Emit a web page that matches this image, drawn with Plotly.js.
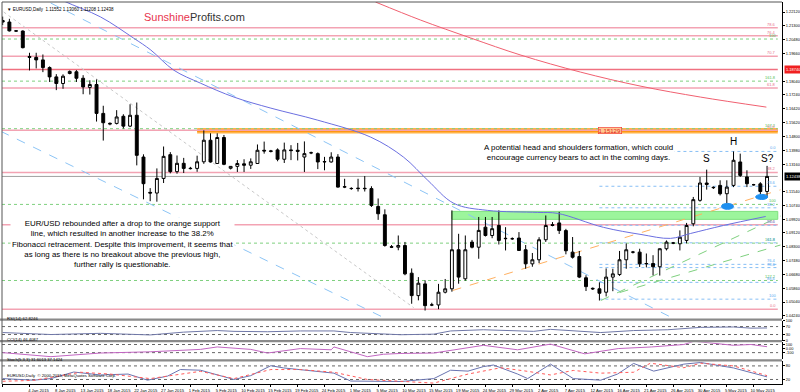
<!DOCTYPE html>
<html><head><meta charset="utf-8">
<script src="https://cdn.plot.ly/plotly-3.0.1.min.js"></script>
<style>html,body{margin:0;padding:0;background:#fff}#chart{width:800px;height:392px}</style>
</head><body><div id="chart"></div>
<script>
// ---------- data ----------
const barCount = 115;
const barIndex = Array.from({length: barCount}, (_, i) => i);
const opens  = [1.2162,1.2153,1.2101,1.2100,1.1950,1.1945,1.1930,1.1885,1.1830,1.1791,1.1850,1.1860,1.1822,1.1768,1.1785,1.1615,1.1552,1.1556,1.1598,1.1540,
1.1604,1.1358,1.1150,1.1146,1.1232,1.1372,1.1272,1.1321,1.1292,1.1291,1.1330,1.1457,1.1320,1.1473,1.1292,1.1303,1.1318,1.1310,1.1320,1.1398,
1.1394,1.1400,1.1345,1.1400,1.1398,1.1358,1.1383,1.1378,1.1329,1.1329,1.1358,1.1181,1.1172,1.1172,1.1174,1.1172,1.1067,1.1018,1.0830,1.0827,
1.0837,1.0674,1.0542,1.0611,1.0487,1.0487,1.0562,1.0582,1.0812,1.0641,1.0857,1.0827,1.0945,1.0896,1.0955,1.0877,1.0877,1.0881,1.0812,1.0729,
1.0753,1.0871,1.0960,1.0970,1.0925,1.0798,1.0772,1.0647,1.0585,1.0582,1.0562,1.0651,1.0666,1.0753,1.0798,1.0798,1.0729,1.0731,1.0712,1.0818,
1.0851,1.0847,1.0867,1.0965,1.1103,1.1205,1.1180,1.1191,1.1142,1.1191,1.1329,1.1241,1.1195,1.1200,1.11552];
const highs  = [1.2185,1.2172,1.2105,1.2104,1.1972,1.1972,1.1962,1.1892,1.1846,1.1845,1.1868,1.1870,1.1840,1.1810,1.1815,1.1660,1.1562,1.1634,1.1610,1.1669,
1.1679,1.1374,1.1175,1.1291,1.1420,1.1387,1.1367,1.1353,1.1300,1.1366,1.1515,1.1498,1.1498,1.1488,1.1305,1.1340,1.1345,1.1350,1.1432,1.1449,
1.1400,1.1409,1.1443,1.1428,1.1441,1.1450,1.1390,1.1385,1.1359,1.1386,1.1375,1.1230,1.1180,1.1230,1.1246,1.1186,1.1114,1.1050,1.0840,1.0896,
1.0858,1.0702,1.0651,1.0632,1.0500,1.0611,1.0640,1.1044,1.0906,1.0896,1.0870,1.1005,1.1005,1.1005,1.1044,1.0945,1.0885,1.0916,1.0840,1.0793,
1.0886,1.1014,1.0975,1.1035,1.0935,1.0887,1.0805,1.0662,1.0590,1.0620,1.0702,1.0700,1.0805,1.0849,1.0805,1.0818,1.0790,1.0780,1.0820,1.0867,
1.0858,1.0926,1.0970,1.1123,1.1241,1.1284,1.1185,1.1221,1.1221,1.1391,1.1378,1.1280,1.1200,1.1210,1.1306];
const lows   = [1.2135,1.2097,1.2097,1.1998,1.1868,1.1880,1.1858,1.1800,1.1752,1.1760,1.1845,1.1800,1.1728,1.1726,1.1567,1.1455,1.1545,1.1550,1.1526,1.1534,
1.1309,1.1109,1.1098,1.1095,1.1205,1.1262,1.1260,1.1264,1.1285,1.1271,1.1318,1.1325,1.1317,1.1310,1.1285,1.1270,1.1270,1.1288,1.1318,1.1378,
1.1385,1.1333,1.1323,1.1340,1.1338,1.1270,1.1375,1.1287,1.1280,1.1325,1.1178,1.1175,1.1165,1.1155,1.1155,1.1064,1.0988,1.0830,1.0822,1.0809,
1.0662,1.0494,1.0514,1.0454,1.0480,1.0462,1.0555,1.0565,1.0612,1.0630,1.0820,1.0759,1.0890,1.0880,1.0843,1.0808,1.0870,1.0805,1.0700,1.0712,
1.0733,1.0858,1.0950,1.0905,1.0785,1.0760,1.0645,1.0569,1.0575,1.0513,1.0537,1.0568,1.0658,1.0700,1.0790,1.0711,1.0708,1.0661,1.0660,1.0808,
1.0845,1.0808,1.0850,1.0950,1.1095,1.1166,1.1170,1.1132,1.1062,1.1181,1.1241,1.1181,1.1190,1.1132,1.11208];
const closes = [1.2153,1.2101,1.2100,1.2002,1.1945,1.1930,1.1885,1.1830,1.1791,1.1834,1.1862,1.1822,1.1771,1.1785,1.1615,1.1560,1.1556,1.1594,1.1540,1.1604,
1.1368,1.1201,1.1146,1.1232,1.1362,1.1272,1.1321,1.1291,1.1290,1.1330,1.1457,1.1329,1.1473,1.1315,1.1303,1.1320,1.1310,1.1330,1.1398,1.1394,
1.1392,1.1345,1.1400,1.1396,1.1392,1.1378,1.1383,1.1329,1.1331,1.1358,1.1181,1.1183,1.1173,1.1174,1.1172,1.1073,1.1024,1.0837,1.0827,1.0837,
1.0670,1.0542,1.0615,1.0483,1.0487,1.0562,1.0582,1.0812,1.0651,1.0812,1.0827,1.0926,1.0896,1.0936,1.0867,1.0879,1.0877,1.0808,1.0729,1.0753,
1.0871,1.0955,1.0955,1.0925,1.0806,1.0768,1.0651,1.0595,1.0582,1.0556,1.0651,1.0670,1.0753,1.0812,1.0798,1.0729,1.0731,1.0712,1.0818,1.0857,
1.0852,1.0886,1.0955,1.1107,1.1205,1.1197,1.1178,1.1142,1.1181,1.1339,1.1250,1.1201,1.1195,1.1155,1.12438];

const dateTickIndex = [0,4,8,12,16,20,24,28,32,36,40,44,48,52,56,60,64,68,72,76,80,84,88,92,96,100,104,108,112];
const dateTickLabels = ['30 Dec 2014','4 Jan 2015','8 Jan 2015','13 Jan 2015','18 Jan 2015','22 Jan 2015','27 Jan 2015','1 Feb 2015','5 Feb 2015','10 Feb 2015','15 Feb 2015','19 Feb 2015','24 Feb 2015','1 Mar 2015','5 Mar 2015','10 Mar 2015','15 Mar 2015','19 Mar 2015','24 Mar 2015','29 Mar 2015','2 Apr 2015','7 Apr 2015','12 Apr 2015','16 Apr 2015','21 Apr 2015','26 Apr 2015','30 Apr 2015','5 May 2015','10 May 2015'];
const priceTicks = [1.04240,1.05040,1.05860,1.06680,1.07480,1.08300,1.09120,1.09920,1.10740,1.11540,1.13160,1.13980,1.14800,1.15620,1.16420,1.17240,1.18040,1.19660,1.20480,1.21300,1.22120];

// moving averages (bar index, price)
const maBlueIndex  = [6,9.1,14.6,19.5,22.1,25.5,29.5,34.5,40,47,54.9,59.8,63.4,67.3,72.3,79.8,82.8,89.6,95.2,99.6,102.6,107.5,113.8];
const maBlueValues = [1.2340,1.2277,1.2183,1.2059,1.1988,1.1870,1.1793,1.1711,1.1646,1.1575,1.1475,1.1357,1.1221,1.1085,1.1044,1.1032,1.1026,1.0944,1.0902,1.0879,1.0908,1.0955,1.1008];
const maRedIndex   = [55.6,62.3,69.8,77.3,86.2,95.2,104.1,113.9];
const maRedValues  = [1.2271,1.2165,1.2059,1.1958,1.1858,1.1775,1.1711,1.1652];

// indicators (bar index, value)
const rsiIndex  = [0,4.6,7.2,14.6,19.5,22,27,29.5,32,34.5,39.5,44.4,49.4,51.9,54.4,56.8,59.4,64.3,66.8,71.7,76.8,79.2,81.7,84.3,89.2,94.1,99.2,104.1,109,111.6,114];
const rsiValues = [40,36,30,36,32,28,42,46,50,46,44,48,48,40,36,30,29,32,48,54,50,46,56,50,40,50,54,66,68,62,63];
const cciIndex  = [0,4.6,7.2,14.6,22,29.5,32,37,39.5,44.4,49,49.4,52,54.4,56.8,59.4,64.3,66.8,71.7,76.8,81.7,86.8,91.8,96.8,101.6,103.1,106.6,109,111.6,114];
const cciValues = [-100,-170,-200,-110,-80,-20,40,-20,-110,0,-30,40,-80,-200,-140,-120,-110,-40,80,-30,110,-130,0,40,100,180,110,80,100,46];
const stochIndex = [0,4.6,7.2,10.6,14.6,18.7,21.6,24.6,26.5,29.5,34.5,37,40,41.9,49.4,51.9,59.4,64.3,66.8,69.4,71.7,73.2,76.8,78.3,81.7,85.1,89.2,91.7,94.1,97.1,101.6,104.1,109,114];
const stochMain  = [24,17,24,53,40,44,17,35,64,61,20,37,81,71,48,13,11,24,61,57,77,84,44,24,88,24,17,44,91,57,88,95,71,31.6];
const stochSigIndex = [0,4.6,11.6,16,22,29.5,34.5,40,44.4,49.4,54.4,59.4,64.3,69.4,74.3,78.3,81.7,85.1,89.2,94.1,96.6,101.6,104.1,109,114];
const stochSignal   = [12,16,52,44,24,56,24,64,64,52,20,12,4,44,72,56,40,60,48,52,92,72,92,80,37.1];

// fibonacci / horizontal levels
const fibRedLevels  = [1.0462,1.0959,1.1267,1.1516,1.1765,1.1952,1.2072,1.2119];
const fibRedLabels  = ['0.0','23.6','38.2','50.0','61.8','70.7','76.4','78.6'];
const fibBlueLevels = [1.0521,1.0620,1.0707,1.0726,1.0853,1.0956,1.1059,1.1186,1.1391];
const fibBlueLabels = ['100','88.6','78.6','76.4','61.8','50.0','38.2','23.6','0.0'];
const fibBlueStart = 89;
const greenLevels = [1.0631,1.0851,1.1079,1.1525,1.1805,1.2053];
const greenLabels = ['127.2','161.8','100','127.2','161.8','100'];
const bidPrice = 1.12438;
const redLinePrice = 1.1874;
const supportPrice = 1.1513;
const supportStart = 29;
const zoneLow = 1.0991, zoneHigh = 1.1038, zoneStart = 67;
// trend lines: [x0, y0, x1, y1] in (bar index, price)
const trendBlueDash = [[7.16,1.2265,100.1,1.0406],[-0.3,1.1510,56.8,1.0413]];
const trendGrayDot  = [[0.15,1.2212,61.3,1.0471]];
const trendOrange   = [[67.1,1.0572,116,1.1165]];
const trendGreen    = [[89.2,1.0513,116,1.1010],[92,1.0560,116,1.0840]];

// ---------- layout helpers ----------
const XR = [-0.1, 116.23];
const shapes = [], annotations = [];
const FONT = 'Liberation Sans, Arial, sans-serif';
const PLOT_BOTTOM = 384, PLOT_H = 382;
const pxY = p => (PLOT_BOTTOM - p) / PLOT_H;
const pxX = p => (p - 2) / 780;
function hline(y, color, width, dash, x0) {
  shapes.push({type:'line', xref:'x', yref:'y', x0: (x0===undefined? XR[0]:x0), x1: 115.6, y0:y, y1:y, line:{color, width, dash}, layer:'below'});
}
function lbl(x, y, text, color, opts) {
  annotations.push(Object.assign({xref:'x', yref:'y', x, y, text, showarrow:false, font:{family:FONT, size:4, color}, xanchor:'right', yanchor:'bottom', yshift:-1}, opts||{}));
}
// green zone & orange support
shapes.push({type:'rect', xref:'x', yref:'y', x0: zoneStart, x1: 115.6, y0: zoneLow, y1: zoneHigh, fillcolor:'#9cf59c', line:{color:'#7ee07e', width:1}, layer:'below'});
shapes.push({type:'rect', xref:'x', yref:'y', x0: supportStart, x1: 115.6, y0: supportPrice-0.0016, y1: supportPrice+0.0016, fillcolor:'#ffb347', line:{width:0}, layer:'below'});
shapes.push({type:'line', xref:'x', yref:'y', x0: supportStart, x1: 115.6, y0: supportPrice, y1: supportPrice, line:{color:'#ff8c00', width:2}, layer:'below'});
// levels
fibRedLevels.forEach((v,i)=>{ hline(v, '#f3a3b3', 1.5, 'solid'); lbl(115.6, v, fibRedLabels[i], '#e8708a'); });
greenLevels.forEach((v,i)=>{ hline(v, '#7fd07f', 1, 'dot'); lbl(115.6, v, greenLabels[i], '#52c052'); });
fibBlueLevels.forEach((v,i)=>{ hline(v, '#87bff5', 1, 'dot', fibBlueStart); lbl(115.6, v, fibBlueLabels[i], '#5aa8f0'); });
hline(redLinePrice, '#f07080', 1.5, 'solid');
hline(bidPrice, '#a0a0a0', 1, 'solid');
// trend lines
trendBlueDash.forEach(t=>shapes.push({type:'line', xref:'x', yref:'y', x0:t[0], y0:t[1], x1:t[2], y1:t[3], line:{color:'#8cc4f5', width:1, dash:'dash'}, layer:'below'}));
trendGrayDot.forEach(t=>shapes.push({type:'line', xref:'x', yref:'y', x0:t[0], y0:t[1], x1:t[2], y1:t[3], line:{color:'#c8c8c8', width:1, dash:'dot'}, layer:'below'}));
trendOrange.forEach(t=>shapes.push({type:'line', xref:'x', yref:'y', x0:t[0], y0:t[1], x1:t[2], y1:t[3], line:{color:'#ffb060', width:1, dash:'dash'}, layer:'below'}));
trendGreen.forEach(t=>shapes.push({type:'line', xref:'x', yref:'y', x0:t[0], y0:t[1], x1:t[2], y1:t[3], line:{color:'#7fd07f', width:1, dash:'dash'}, layer:'below'}));
// blue ellipses
shapes.push({type:'circle', xref:'x', yref:'y', x0:107.2, x1:109.0, y0:1.1050, y1:1.1085, fillcolor:'#1e8ff0', line:{color:'#1e8ff0', width:1}});
shapes.push({type:'circle', xref:'x', yref:'y', x0:112.3, x1:114.1, y0:1.1108, y1:1.1138, fillcolor:'#1e8ff0', line:{color:'#1e8ff0', width:1}});
// subpanel dotted levels
[[70,'y2'],[30,'y2'],[100,'y3'],[-100,'y3'],[80,'y4'],[20,'y4']].forEach(([v,ax])=>{
  shapes.push({type:'line', xref:'paper', yref:ax, x0:0, x1:0.995, y0:v, y1:v, line:{color:'#666', width:1, dash:'dot'}, layer:'below'});
});
// separators and frame
[319.6, 341.2, 360.4].forEach(p=>shapes.push({type:'line', xref:'paper', yref:'paper', x0:-0.003, x1:1, y0:pxY(p), y1:pxY(p), line:{color:'#8a8a8a', width:2.2}}));
shapes.push({type:'line', xref:'paper', yref:'paper', x0:0, x1:0, y0:0, y1:1, line:{color:'#555', width:1}});
shapes.push({type:'line', xref:'paper', yref:'paper', x0:0, x1:1, y0:1, y1:1, line:{color:'#555', width:1}});

// price labels on axis
annotations.push({xref:'paper', yref:'y', x:1.002, y:bidPrice, text:'1.12438', showarrow:false, xanchor:'left', bgcolor:'#000', font:{family:FONT, size:4, color:'#fff'}, borderpad:1});
annotations.push({xref:'paper', yref:'y', x:1.002, y:redLinePrice, text:'1.18740', showarrow:false, xanchor:'left', bgcolor:'#f02020', font:{family:FONT, size:4, color:'#fff'}, borderpad:1});
annotations.push({xref:'x', yref:'y', x:90.6, y:supportPrice, text:'1.15129', showarrow:false, xanchor:'center', bgcolor:'#ffc890', bordercolor:'#f03030', borderwidth:0.6, font:{family:FONT, size:6, color:'#e02020'}, borderpad:0});

// texts
annotations.push({xref:'paper', yref:'paper', x:0.004, y:pxY(5.5), text:'▼ EURUSD,Daily  1.11552 1.13060 1.11208 1.12438', showarrow:false, xanchor:'left', font:{family:FONT, size:4.5, color:'#000'}});
annotations.push({xref:'paper', yref:'paper', x:pxX(194), y:pxY(9), xanchor:'center', text:'<span style="color:#e8344e">Sunshine</span><span style="color:#333">Profits.com</span>', showarrow:false, font:{family:FONT, size:11}});
annotations.push({xref:'paper', yref:'paper', x:pxX(578), y:pxY(152.5), xanchor:'center', text:'A potential head and shoulders formation, which could<br>encourage currency bears to act in the coming days.', showarrow:false, bgcolor:'#fff', font:{family:FONT, size:7.9, color:'#000'}});
annotations.push({xref:'paper', yref:'paper', x:pxX(122.5), y:pxY(270.5), xanchor:'center', text:'EUR/USD rebounded after a drop to the orange support<br>line, which resulted in another increase to the 38.2%<br>Fibonacci retracement. Despite this improvement, it seems that<br>as long as there is no breakout above the previous high,<br>further rally is questionable.', showarrow:false, bgcolor:'#fff', font:{family:FONT, size:7.9, color:'#000'}});
[['S',105,1.1350],['H',109,1.1450],['S?',114,1.1352]].forEach(([t,x,y])=>annotations.push({xref:'x', yref:'y', x, y, xanchor:'center', text:t, showarrow:false, font:{family:FONT, size:10, color:'#000'}}));
annotations.push({xref:'paper', yref:'paper', x:0.004, y:pxY(323), text:'RSI(14) 62.8246', showarrow:false, xanchor:'left', font:{family:FONT, size:4.2, color:'#000'}});
annotations.push({xref:'paper', yref:'paper', x:0.004, y:pxY(344), text:'CCI(14) 46.4087', showarrow:false, xanchor:'left', font:{family:FONT, size:4.2, color:'#000'}});
annotations.push({xref:'paper', yref:'paper', x:0.004, y:pxY(363.5), text:'Stoch(5,3,3) 31.6013 37.1424', showarrow:false, xanchor:'left', font:{family:FONT, size:4.2, color:'#000'}});
annotations.push({xref:'paper', yref:'paper', x:0.004, y:pxY(380), text:'EURUSD,Daily  © 2000-2015, MetaQuotes Software Corp.', showarrow:false, xanchor:'left', font:{family:FONT, size:4.2, color:'#000'}});

// ---------- traces ----------
const traces = [
  {type:'candlestick', x:barIndex, open:opens, high:highs, low:lows, close:closes, xaxis:'x', yaxis:'y', whiskerwidth:0,
   increasing:{line:{color:'#000', width:1}, fillcolor:'#fff'}, decreasing:{line:{color:'#000', width:1}, fillcolor:'#000'}, hoverinfo:'skip', showlegend:false},
  {type:'scatter', mode:'lines', x:maBlueIndex, y:maBlueValues, line:{color:'#6b6fe0', width:1, shape:'spline'}, xaxis:'x', yaxis:'y', hoverinfo:'skip'},
  {type:'scatter', mode:'lines', x:maRedIndex, y:maRedValues, line:{color:'#f06070', width:1, shape:'spline'}, xaxis:'x', yaxis:'y', hoverinfo:'skip'},
  {type:'scatter', mode:'lines', x:rsiIndex, y:rsiValues, line:{color:'#7078a8', width:1}, xaxis:'x', yaxis:'y2', hoverinfo:'skip'},
  {type:'scatter', mode:'lines', x:cciIndex, y:cciValues, line:{color:'#c266c2', width:1}, xaxis:'x', yaxis:'y3', hoverinfo:'skip'},
  {type:'scatter', mode:'lines', x:stochIndex, y:stochMain, line:{color:'#6a74b0', width:1}, xaxis:'x', yaxis:'y4', hoverinfo:'skip'},
  {type:'scatter', mode:'lines', x:stochSigIndex, y:stochSignal, line:{color:'#ff5a5a', width:1, dash:'dot'}, xaxis:'x', yaxis:'y4', hoverinfo:'skip'}
];

const axFont = {family:FONT, size:3.9, color:'#000'};
const yBase = {side:'right', showgrid:false, zeroline:false, showline:true, linecolor:'#000', linewidth:1, ticks:'outside', ticklen:2, tickcolor:'#000', tickfont:axFont, fixedrange:true, anchor:'x'};
const layout = {
  width:800, height:392, margin:{l:2, r:18, t:2, b:8}, paper_bgcolor:'#fff', plot_bgcolor:'#fff', showlegend:false,
  boxgap:0.38,
  xaxis:{range:XR, tickvals:dateTickIndex, ticktext:dateTickLabels, tickfont:{family:FONT, size:4.2, color:'#000'}, ticks:'outside', ticklen:2, tickcolor:'#000', ticklabelshift:9,
         showgrid:false, zeroline:false, showline:true, linecolor:'#000', anchor:'y4', rangeslider:{visible:false}, fixedrange:true},
  yaxis: Object.assign({}, yBase, {domain:[pxY(318.6), 1], range:[1.04066, 1.2271], tickvals:priceTicks, ticktext:priceTicks.map(v=>v.toFixed(5))}),
  yaxis2: Object.assign({}, yBase, {domain:[pxY(340.5), pxY(320.6)], range:[0, 100], tickvals:[100,70,30,0], ticktext:['100','70','30','0']}),
  yaxis3: Object.assign({}, yBase, {domain:[pxY(359.4), pxY(342.2)], range:[-267, 157], tickvals:[100,0,-100], ticktext:['100','0.00','-100']}),
  yaxis4: Object.assign({}, yBase, {domain:[0, pxY(361.4)], range:[0, 100], tickvals:[80,20], ticktext:['80','20']}),
  shapes, annotations
};
Plotly.newPlot('chart', traces, layout, {staticPlot:true, displayModeBar:false});
</script></body></html>
